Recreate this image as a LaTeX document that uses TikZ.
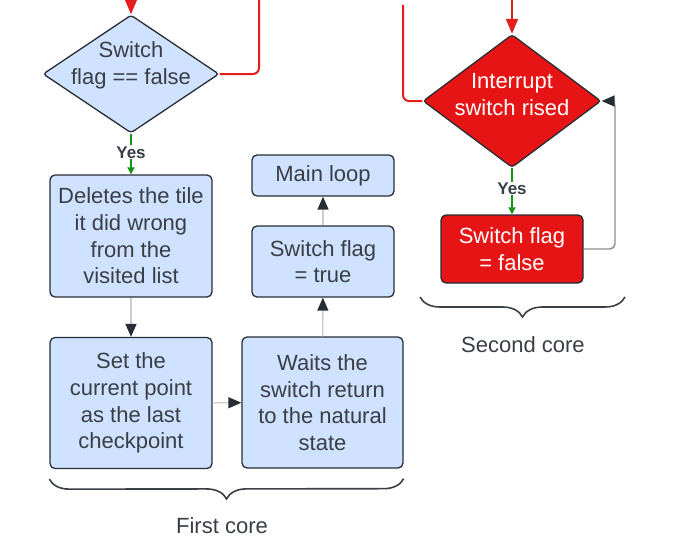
\documentclass[tikz,border=0pt]{standalone}
\usepackage{fontspec}
\setmainfont{Liberation Sans}
\usepackage{tikz}
\usetikzlibrary{shapes.geometric,arrows.meta,decorations.pathreplacing}
\definecolor{ink}{RGB}{58,62,70}
\definecolor{edge}{RGB}{40,44,52}
\definecolor{pale}{RGB}{207,226,255}
\definecolor{alarm}{RGB}{230,20,20}
\definecolor{wire}{RGB}{228,30,30}
\definecolor{okgreen}{RGB}{20,150,20}
\definecolor{faint}{RGB}{205,205,208}
\definecolor{mid}{RGB}{140,140,148}

\begin{document}
\begin{tikzpicture}[x=1pt,y=-1pt,
  box/.style={draw=edge,rounded corners=5pt,fill=pale,line width=1.3pt,
     inner sep=0pt,align=center,text=ink,font=\fontsize{22}{26.7}\selectfont},
  redbox/.style={box,fill=alarm,text=white},
  dia/.style={diamond,draw=edge,rounded corners=3pt,fill=pale,line width=1.3pt,inner sep=0pt},
  dtext/.style={align=center,text=ink,font=\fontsize{22}{26.7}\selectfont},
  yeslbl/.style={fill=white,inner sep=1pt,text=ink,font=\fontsize{17}{20}\selectfont\bfseries},
  core/.style={text=ink,font=\fontsize{22}{26}\selectfont},
  redline/.style={draw=wire,line width=2pt,rounded corners=6pt},
  redarrow/.style={redline,-{Triangle[length=15pt,width=12pt]}},
  yesarrow/.style={draw=okgreen,line width=2pt,-{Triangle[length=7pt,width=7pt]}},
  flow/.style={draw=faint,line width=1.4pt,-{Triangle[length=13pt,width=11pt,color=edge]}},
  back/.style={draw=mid,line width=1.4pt,rounded corners=5pt,-{Triangle[length=13pt,width=11pt,color=edge]}},
  brc/.style={draw=ink,line width=1.6pt,decorate,decoration={brace,mirror,amplitude=20pt}}]
\useasboundingbox (0,0) rectangle (685,543);
% first core
\node[dia,minimum width=176pt,minimum height=118pt] (sw) at (131,74) {};
\node[dtext] (swt) at (131,65) {Switch\\flag == false};
\node[box,minimum width=162pt,minimum height=122pt] (del) at (131,236) {Deletes the tile\\it did wrong\\from the\\visited list};
\node[box,minimum width=162pt,minimum height=131pt] (chk) at (131,403) {Set the\\current point\\as the last\\checkpoint};
\node[box,minimum width=161pt,minimum height=131pt] (wait) at (322.5,402.5) {Waits the\\switch return\\to the natural\\state};
\node[box,minimum width=142pt,minimum height=71pt] (flag) at (323,261.5) {Switch flag\\= true};
\node[box,minimum width=142pt,minimum height=41pt] (loop) at (323,175.5) {Main loop};
% second core
\node[dia,fill=alarm,minimum width=178pt,minimum height=133pt] (irq) at (512,101) {};
\node[dtext,text=white] (irqt) at (512,94.5) {Interrupt\\switch rised};
\node[redbox,minimum width=142pt,minimum height=68pt] (rfl) at (512,249) {Switch flag\\= false};
\coordinate (in1) at (131,0);
\coordinate (up1) at (259,0);
\coordinate (in2) at (512,0);
\coordinate (up2) at (403,5);
\coordinate (bend) at (615,101);
\draw[redarrow] (in1)--(sw.north);
\draw[redline] (sw.east) -| (up1);
\draw[redarrow] (in2)--(irq.north);
\draw[redline] (up2) |- (irq.west);
\draw[yesarrow] (sw.south) -- node[yeslbl,pos=0.46] (yes1) {Yes} (del.north);
\draw[yesarrow] (irq.south) -- node[yeslbl,pos=0.44] (yes2) {Yes} (rfl.north);
\draw[flow] (del)--(chk);
\draw[flow] (chk)--(wait);
\draw[flow] (wait)--(flag);
\draw[flow] (flag)--(loop);
\draw[back] (rfl.east) -| (bend) -- (irq.east);
% braces
\draw[brc] ([yshift=-10pt]chk.south west) -- ([yshift=-10pt]wait.south east);
\draw[brc] (420,297) -- (625,297);
\node[core] (c1) at (222,526) {First core};
\node[core] (c2) at (523,345) {Second core};
\end{tikzpicture}
\end{document}
